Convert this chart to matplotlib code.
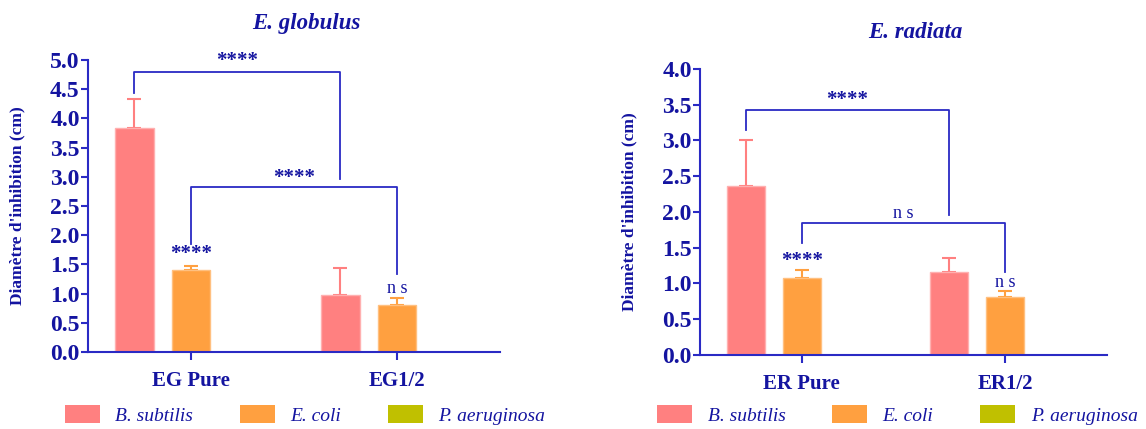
import matplotlib
matplotlib.use("Agg")
from matplotlib import pyplot as plt
from matplotlib.patches import Patch
import numpy as np

# data
groups_eg = ["EG Pure", "EG1/2"]
groups_er = ["ER Pure", "ER1/2"]
strains = ["B. subtilis", "E. coli", "P. aeruginosa"]

eg_bsub = [3.83, 0.97]
eg_bsub_err = [0.50, 0.46]
eg_ecoli = [1.41, 0.81]
eg_ecoli_err = [0.07, 0.11]
eg_paer = [0.0, 0.0]

er_bsub = [2.37, 1.16]
er_bsub_err = [0.64, 0.19]
er_ecoli = [1.08, 0.81]
er_ecoli_err = [0.11, 0.08]
er_paer = [0.0, 0.0]

colors = ["#ff8080", "#ffa040", "#c0c000"]
edges = ["#ffb0b0", "#ffc080", "#d0d040"]
txt = "#1414a0"
line = "#2a2ac4"

plt.rcParams["font.family"] = ["Liberation Serif", "DejaVu Serif"]

fig = plt.figure(figsize=(11.46, 4.29), dpi=100)
ax1 = fig.add_axes([0.0768, 0.1795, 0.3595, 0.6807])
ax2 = fig.add_axes([0.6108, 0.1725, 0.3551, 0.6667])

off = 0.275
w = 0.187


def draw(ax, groups, series, errs, ymax, title, title_x):
    x = np.arange(len(groups))
    for i, (vals, col, ec) in enumerate(zip(series, colors, edges)):
        e = errs[i]
        ax.bar(x + (i - 1) * off, vals, width=w, color=col, edgecolor=ec, linewidth=1, zorder=2)
        if e is not None:
            ax.errorbar(x + (i - 1) * off, vals, yerr=[np.zeros(len(e)), e], fmt="none",
                        ecolor=col, elinewidth=1.5, capsize=4.7, capthick=1.5, zorder=1)
    ax.set_xlim(-0.5, 1.5)
    ax.set_ylim(0, ymax)
    ax.set_yticks(np.arange(0, ymax + 0.01, 0.5))
    ax.set_yticklabels([f"{v:.1f}" for v in np.arange(0, ymax + 0.01, 0.5)])
    ax.set_xticks(x)
    ax.set_xticklabels(groups)
    for s in ["top", "right"]:
        ax.spines[s].set_visible(False)
    for s in ["left", "bottom"]:
        ax.spines[s].set_color(line)
        ax.spines[s].set_linewidth(1.5)
    ax.tick_params(axis="y", colors=line, labelcolor=txt, labelsize=17, width=1.5, length=5, pad=1)
    ax.tick_params(axis="x", colors=line, labelcolor=txt, labelsize=15, width=1.5, length=6, pad=8)
    for lab in ax.get_yticklabels() + ax.get_xticklabels():
        lab.set_fontweight("bold")
    ax.set_ylabel("Diamètre d'inhibition (cm)", color=txt, fontsize=12.5, fontweight="bold")
    ax.yaxis.set_label_coords(-0.153, 0.5)
    ax.set_title(title, color=txt, fontsize=16.5, fontweight="bold", style="italic", x=title_x, pad=22)
    return x


def bracket(ax, x0, y0, x1, y1, top, label, ly, fs=15, bold=True):
    ax.plot([x0, x0, x1, x1], [y0, top, top, y1], color=line, lw=1.3, zorder=3)
    ax.text((x0 + x1) / 2, ly, label, ha="center", va="center", color=txt, fontsize=fs,
            fontweight="bold" if bold else "normal")


x = draw(ax1, groups_eg, [eg_bsub, eg_ecoli, eg_paer], [eg_bsub_err, eg_ecoli_err, None], 5.0, "E. globulus", 0.53)
bracket(ax1, x[0] - off, 4.44, x[1] - off, 2.96, 4.79, "****", 4.98)
bracket(ax1, x[0], 1.85, x[1], 1.33, 2.82, "****", 2.98)
ax1.text(x[0], 1.68, "****", ha="center", va="center", color=txt, fontsize=15, fontweight="bold")
ax1.text(x[1], 1.09, "n s", ha="center", va="center", color=txt, fontsize=13)

x = draw(ax2, groups_er, [er_bsub, er_ecoli, er_paer], [er_bsub_err, er_ecoli_err, None], 4.0, "E. radiata", 0.53)
bracket(ax2, x[0] - off, 3.15, x[1] - off, 1.96, 3.42, "****", 3.57)
bracket(ax2, x[0], 1.56, x[1], 1.16, 1.84, "n s", 1.98, fs=13, bold=False)
ax2.text(x[0], 1.32, "****", ha="center", va="center", color=txt, fontsize=15, fontweight="bold")
ax2.text(x[1], 1.01, "n s", ha="center", va="center", color=txt, fontsize=13)

handles = [Patch(facecolor=c, edgecolor="none") for c in colors]
for ax, anchor in [(ax1, (0.266, 0.033)), (ax2, (0.783, 0.033))]:
    leg = fig.legend(handles, strains, loc="center", bbox_to_anchor=anchor, ncol=3, frameon=False,
                     handlelength=1.8, handleheight=1.0, handletextpad=0.8, columnspacing=2.4,
                     prop={"style": "italic", "size": 14})
    for t in leg.get_texts():
        t.set_color(txt)

fig.savefig("out.png", dpi=100)
